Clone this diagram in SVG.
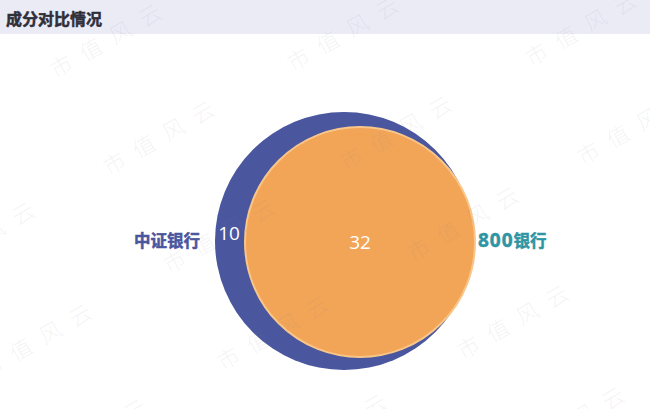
<svg xmlns="http://www.w3.org/2000/svg" width="650" height="409" viewBox="0 0 650 409">
<style>
.title{font-family:"Noto Sans CJK SC",sans-serif;font-size:16px;font-weight:bold;fill:#2f2f3a;stroke:#2f2f3a;stroke-width:0.5}
.lbl{font-family:"Noto Sans CJK SC",sans-serif;font-size:16.5px;font-weight:bold;stroke-width:0.5}
.dg{font-family:"Open Sans","Noto Sans CJK SC",sans-serif;font-size:19px;font-weight:bold}
.num{font-family:"Open Sans","Noto Sans CJK SC",sans-serif;font-size:19px;fill:#ffffff;text-anchor:middle}
.wm{font-family:"Noto Sans CJK SC",sans-serif;font-size:22px;font-weight:300;letter-spacing:12px;fill:#8a8a9a;fill-opacity:0.11;text-anchor:middle}
</style>
<rect x="0" y="0" width="650" height="409" fill="#ffffff"/>
<rect x="0" y="0" width="650" height="34" fill="#ebebf6"/>
<text class="title" x="6" y="25">成分对比情况</text>
<g id="set-zhongzheng">
<circle cx="344" cy="241" r="129" fill="#4a569e"/>
</g>
<g id="set-800">
<circle cx="360" cy="242" r="115" fill="#f2a457" stroke="#f8c688" stroke-width="2"/>
</g>
<g id="connectors"></g>
<g id="labels">
<text class="lbl" x="134" y="247" fill="#4a569e" stroke="#4a569e">中证银行</text>
<text class="lbl" x="478" y="247" fill="#2f95a3" stroke="#2f95a3"><tspan class="dg" letter-spacing="1">800</tspan>银行</text>
<text class="num" x="229" y="240">10</text>
<text class="num" x="360" y="249">32</text>
</g>
<g id="watermarks">
<text class="wm" transform="translate(115,45) rotate(-30)">市值风云</text>
<text class="wm" transform="translate(352,38) rotate(-30)">市值风云</text>
<text class="wm" transform="translate(590,33) rotate(-30)">市值风云</text>
<text class="wm" transform="translate(168,142) rotate(-30)">市值风云</text>
<text class="wm" transform="translate(405,137) rotate(-30)">市值风云</text>
<text class="wm" transform="translate(642,132) rotate(-30)">市值风云</text>
<text class="wm" transform="translate(-12,243) rotate(-30)">市值风云</text>
<text class="wm" transform="translate(228,240) rotate(-30)">市值风云</text>
<text class="wm" transform="translate(472,228) rotate(-30)">市值风云</text>
<text class="wm" transform="translate(45,345) rotate(-30)">市值风云</text>
<text class="wm" transform="translate(282,337) rotate(-30)">市值风云</text>
<text class="wm" transform="translate(522,326) rotate(-30)">市值风云</text>
<text class="wm" transform="translate(100,440) rotate(-30)">市值风云</text>
<text class="wm" transform="translate(340,435) rotate(-30)">市值风云</text>
<text class="wm" transform="translate(578,428) rotate(-30)">市值风云</text>
</g>
</svg>
